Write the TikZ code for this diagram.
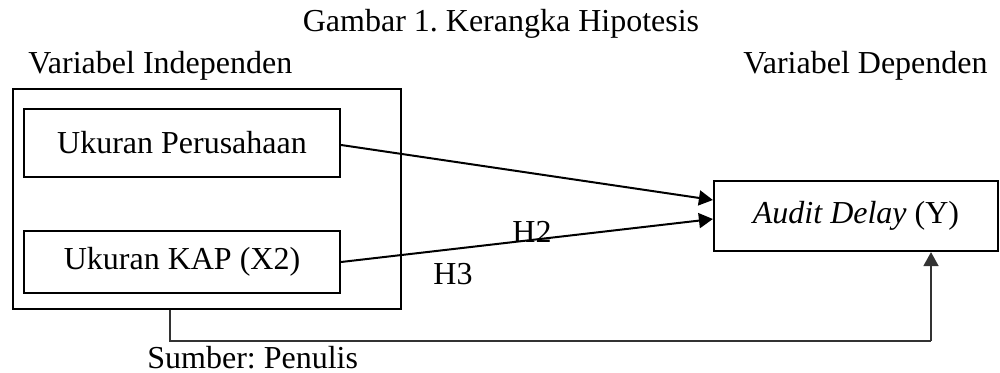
\documentclass[tikz,border=0pt]{standalone}
\usepackage{fontspec}
\setmainfont{Liberation Serif}
\usetikzlibrary{arrows.meta}

\begin{document}
\begin{tikzpicture}[x=0.5pt,y=-0.5pt,
  every node/.style={font=\fontsize{16}{19}\selectfont\frenchspacing, inner sep=0pt},
  varbox/.style={draw, line width=1.1pt, align=center},
  label/.style={anchor=base},
  link/.style={line width=1pt, -{Triangle[length=7pt,width=7.5pt]}},
  loop/.style={line width=0.8pt, draw=black!80}
]
\useasboundingbox (0,0) rectangle (1000,373);

% headings
\node[label] (title) at (501,32) {Gambar 1. Kerangka Hipotesis};
\node[anchor=base west] (indep) at (28,74) {Variabel Independen};
\node[anchor=base east] (dep) at (988,74) {Variabel Dependen};

% independent variables and their frame
\node[varbox, minimum width=194pt, minimum height=110pt, line width=1.3pt] (outer) at (207,199) {};
\node[varbox, minimum width=158pt, minimum height=34pt] (b1) at (182,143) {Ukuran Perusahaan};
\node[varbox, minimum width=158pt, minimum height=31pt] (b2) at (182,262) {Ukuran KAP (X2)};

% dependent variable
\node[varbox, minimum width=142pt, minimum height=35pt] (audit) at (856,216) {\textit{Audit Delay} (Y)};

% hypothesis paths
\draw[link] ([yshift=-1pt]b1.east) -- ([yshift=8pt]audit.west);
\draw[link] (b2.east) -- ([yshift=-1.5pt]audit.west);

\coordinate (elbowL) at (170,341);
\coordinate (elbowR) at (931,341);
\draw[loop] (outer.south -| elbowL) -- (elbowL) -- (elbowR);
\draw[link, line width=0.8pt, draw=black!80] (elbowR) -- (audit.south -| elbowR);

% labels
\node[label] (h2) at (532,243) {H2};
\node[label] (h3) at (453,285) {H3};
\node[anchor=base west] (src) at (147,368) {Sumber: Penulis};
\end{tikzpicture}
\end{document}
